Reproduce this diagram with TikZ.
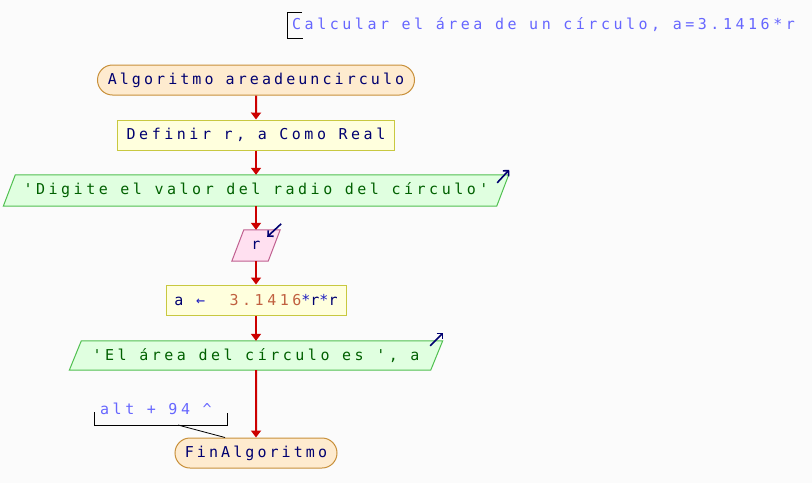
\documentclass[tikz,border=0pt]{standalone}
\usepackage{fontspec}
\setmonofont{DejaVu Sans Mono}[LetterSpace=23.5]
\newfontfamily\termfont{DejaVu Sans Mono}[LetterSpace=20.5]
\usetikzlibrary{shapes.misc,arrows.meta,backgrounds}
\definecolor{bgc}{HTML}{FBFBFB}
\definecolor{termfill}{HTML}{FEEBCF}
\definecolor{termline}{HTML}{C8903A}
\definecolor{procfill}{HTML}{FFFFDD}
\definecolor{procline}{HTML}{C8C840}
\definecolor{iofill}{HTML}{E0FFE0}
\definecolor{ioline}{HTML}{50C050}
\definecolor{infill}{HTML}{FFE0F0}
\definecolor{inline}{HTML}{C06090}
\definecolor{flowred}{HTML}{CC0000}
\definecolor{navy}{HTML}{000070}
\definecolor{iotext}{HTML}{006000}
\definecolor{commtext}{HTML}{6666FF}
\definecolor{numc}{HTML}{C06040}
\definecolor{opc}{HTML}{2020C0}
\newcommand{\para}[2]{\draw[#2] ([xshift=-12pt]#1.south west) -- (#1.north west) -- ([xshift=12pt]#1.north east) -- (#1.south east) -- cycle;}
\begin{document}
\begin{tikzpicture}[x=1pt,y=-1pt,
  base/.style={font=\ttfamily\fontsize{15}{17}\selectfont, inner sep=0pt, minimum height=30pt},
  term/.style={base, font=\termfont\fontsize{15}{17}\selectfont, rounded rectangle, draw=termline, fill=termfill, text=navy, line width=1pt},
  proc/.style={base, rectangle, draw=procline, fill=procfill, text=navy, line width=1pt},
  io/.style={base, text=iotext},
  iogreen/.style={fill=iofill, draw=ioline, line width=1pt},
  iopink/.style={fill=infill, draw=inline, line width=1pt},
  flow/.style={draw=flowred, line width=2pt, -{Triangle[width=10pt,length=7pt]}},
  ioarrow/.style={draw=navy, line width=1.6pt, -{Straight Barb[length=4pt,width=8pt]}},
  comm/.style={font=\ttfamily\fontsize{15}{17}\selectfont, text=commtext, inner sep=0pt, anchor=west},
  bracket/.style={draw=black, line width=1pt}]
\useasboundingbox (0,0) rectangle (812,483);

\node[term, minimum width=317pt] (start) at (256,80) {Algoritmo areadeuncirculo};
\node[proc, minimum width=277pt] (def) at (256,135) {Definir r, a Como Real};
\node[io, minimum width=481pt, minimum height=31pt] (out1) at (256,190.5) {'Digite el valor del radio del círculo'};
\node[io, minimum width=24pt, minimum height=31pt, text=navy] (in1) at (256,245.5) {r};
\node[proc, minimum width=180pt] (asg) at (256,300) {a \textcolor{opc}{←}\hspace{12pt} \textcolor{numc}{3.1416}\textcolor{opc}{*}r\textcolor{opc}{*}r};
\node[io, minimum width=349pt, minimum height=29pt] (out2) at (256,355.5) {'El área del círculo es ', a};
\node[term, minimum width=162pt] (fin) at (256,453) {FinAlgoritmo};

\node[comm] (c1) at (292,25) {Calcular el área de un círculo, a=3.1416*r};
\node[comm] (c2) at (100,409) {alt + 94 \^{}};

\begin{scope}[on background layer]
\fill[bgc] (0,0) rectangle (812,483);
\para{out1}{iogreen}
\para{in1}{iopink}
\para{out2}{iogreen}
\end{scope}

\draw[flow] (start) -- (def);
\draw[flow] (def) -- (out1);
\draw[flow] (out1) -- (in1);
\draw[flow] (in1) -- (asg);
\draw[flow] (asg) -- (out2);
\draw[flow] (out2) -- (fin);

\draw[ioarrow] ([shift={(0.5,8)}]out1.north east) -- ([shift={(12.5,-5)}]out1.north east);
\draw[ioarrow] ([shift={(13,-6)}]in1.north east) -- ([shift={(-1,7)}]in1.north east);
\draw[ioarrow] ([shift={(-0.5,5)}]out2.north east) -- ([shift={(12.5,-8)}]out2.north east);

\draw[bracket] ([shift={(10,-13)}]c1.west) -- ([shift={(-5,-13)}]c1.west) -- ([shift={(-5,13)}]c1.west) -- ([shift={(11,13)}]c1.west);
\draw[bracket] ([shift={(-6,3)}]c2.west) -- ([shift={(-6,16)}]c2.west) coordinate (c2bl) -- ([shift={(127,16)}]c2.west) -- ([shift={(127,4)}]c2.west);
\draw[line width=0.8pt] ([xshift=84pt]c2bl) -- ([xshift=-31pt]fin.north);
\end{tikzpicture}
\end{document}
